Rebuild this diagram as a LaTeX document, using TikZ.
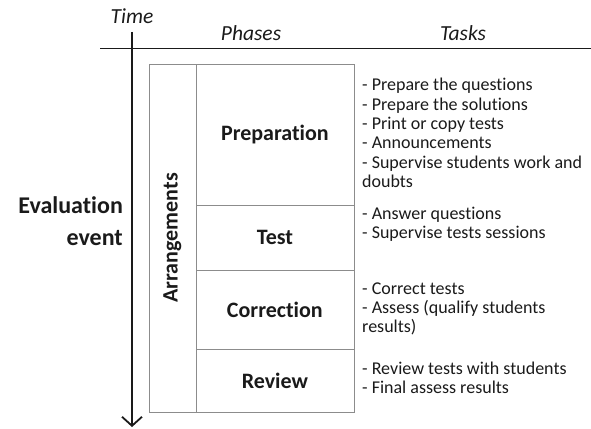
\documentclass[tikz,border=0pt]{standalone}
\usepackage{fontspec}
\setmainfont{Carlito}[Ligatures={NoCommon}]
\usetikzlibrary{arrows.meta}
\definecolor{boxgray}{HTML}{8C8C8C}
\definecolor{txt}{HTML}{1A1A1A}
\tikzset{
  x=1pt, y=-1pt,
  head/.style={font=\fontsize{21.5}{24}\selectfont\itshape, text=txt, inner sep=0pt},
  phase/.style={draw=boxgray, line width=0.8pt, font=\fontsize{22}{26}\selectfont\bfseries, text=txt, inner sep=0pt},
  task/.style={font=\fontsize{18}{19.3}\selectfont, text=txt, align=left, anchor=west, inner sep=0pt},
  axis/.style={line width=1.8pt, draw=txt}
}
\begin{document}
\begin{tikzpicture}
\useasboundingbox (0,0) rectangle (591,428);
% headers
\node[head] (time) at (132,16) {Time};
\node[head] (phasesh) at (251,33) {Phases};
\node[head] (tasksh) at (463,33) {Tasks};
\coordinate (hl) at (100,48.5);
\coordinate (hr) at (591,48.5);
\draw[axis] (hl) -- (hr);
\coordinate (atop) at (132,32);
\coordinate (abot) at (132,427);
\draw[axis, -{Straight Barb[length=9pt,width=20pt,line width=1.8pt]}] (atop) -- (abot);
% evaluation event
\node[font=\fontsize{24}{32}\selectfont\bfseries, text=txt, align=right, anchor=east, inner sep=0pt] (eval) at (123,221) {Evaluation\\event};
% arrangements column
\node[phase, minimum width=47pt, minimum height=348pt, anchor=north west] (arr) at (148.5,63.5) {};
\node[font=\fontsize{22}{26}\selectfont\bfseries, text=txt, rotate=90, inner sep=0pt] (arrt) at (arr.center) {Arrangements};
% phases
\node[phase, minimum width=158pt, minimum height=141.5pt, anchor=north west] (prep) at (195.5,63.5) {Preparation};
\node[phase, minimum width=158pt, minimum height=65pt, anchor=north west] (test) at (195.5,205) {Test};
\node[phase, minimum width=158pt, minimum height=78.5pt, anchor=north west] (corr) at (195.5,270) {Correction};
\node[phase, minimum width=158pt, minimum height=63pt, anchor=north west] (rev) at (195.5,348.5) {Review};
% tasks
\node[task] (t1) at (362,133) {- Prepare the questions\\- Prepare the solutions\\- Print or copy tests\\- Announcements\\- Supervise students work and\\doubts};
\node[task] (t2) at (362,224.5) {- Answer questions\\- Supervise tests sessions};
\node[task] (t3) at (362,309) {- Correct tests\\- Assess (qualify students\\results)};
\node[task] (t4) at (362,377.5) {- Review tests with students\\- Final assess results};
\end{tikzpicture}
\end{document}
